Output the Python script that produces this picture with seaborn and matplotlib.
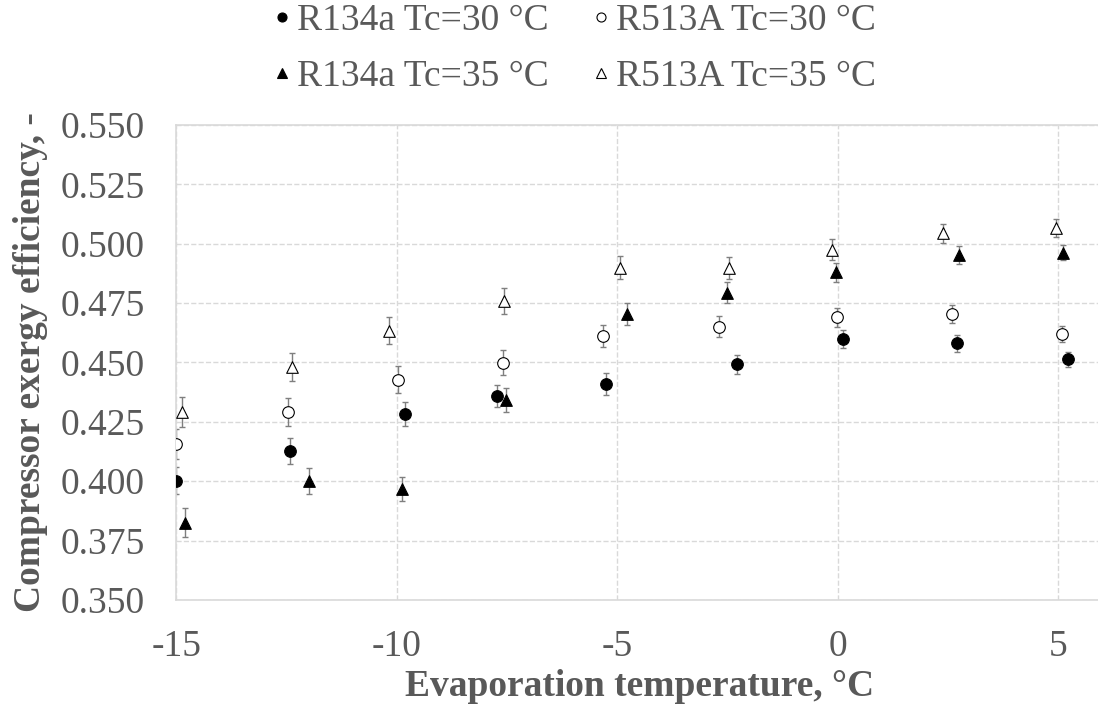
import seaborn as sns
import matplotlib.pyplot as plt
from matplotlib.lines import Line2D

sns.set_style("whitegrid")
plt.rcParams['font.family'] = ['Liberation Serif', 'DejaVu Serif']

# datos
t_r134a_30 = [-15.0, -12.43, -9.82, -7.73, -5.26, -2.29, 0.11, 2.71, 5.21]
e_r134a_30 = [0.4002, 0.4127, 0.4283, 0.4360, 0.4409, 0.4492, 0.4597, 0.4581, 0.4513]
err_r134a_30 = [0.0056, 0.0053, 0.0050, 0.0046, 0.0046, 0.0041, 0.0038, 0.0035, 0.0032]

t_r513a_30 = [-15.0, -12.46, -9.97, -7.60, -5.33, -2.69, -0.03, 2.59, 5.09]
e_r513a_30 = [0.4155, 0.4292, 0.4428, 0.4499, 0.4612, 0.4651, 0.4690, 0.4704, 0.4620]
err_r513a_30 = [0.0063, 0.0058, 0.0056, 0.0052, 0.0046, 0.0044, 0.0040, 0.0037, 0.0035]

t_r134a_35 = [-14.81, -12.0, -9.89, -7.53, -4.78, -2.52, -0.04, 2.74, 5.11]
e_r134a_35 = [0.3826, 0.4000, 0.3966, 0.4342, 0.4704, 0.4793, 0.4880, 0.4953, 0.4963]
err_r134a_35 = [0.0060, 0.0055, 0.0050, 0.0050, 0.0046, 0.0044, 0.0040, 0.0037, 0.0032]

t_r513a_35 = [-14.87, -12.39, -10.17, -7.57, -4.94, -2.47, -0.14, 2.39, 4.94]
e_r513a_35 = [0.4293, 0.4482, 0.4633, 0.4759, 0.4899, 0.4899, 0.4974, 0.5044, 0.5066]
err_r513a_35 = [0.0063, 0.0060, 0.0057, 0.0056, 0.0048, 0.0046, 0.0044, 0.0039, 0.0038]

labels = ["R134a Tc=30 °C", "R513A Tc=30 °C", "R134a Tc=35 °C", "R513A Tc=35 °C"]
x_ticks = [-15, -10, -5, 0, 5]
y_ticks = [0.350, 0.375, 0.400, 0.425, 0.450, 0.475, 0.500, 0.525, 0.550]

series = [
    (t_r134a_30, e_r134a_30, err_r134a_30, "o", "black"),
    (t_r513a_30, e_r513a_30, err_r513a_30, "o", "white"),
    (t_r134a_35, e_r134a_35, err_r134a_35, "^", "black"),
    (t_r513a_35, e_r513a_35, err_r513a_35, "^", "white"),
]

texto = "#595959"
fs = 27
fig = plt.figure(figsize=(10.98, 7.13), dpi=100)
ax = fig.add_axes([0.1607, 0.1585, 0.8434, 0.6662])

for t, e, err, m, fc in series:
    ax.errorbar(t, e, yerr=err, fmt="none", ecolor="#7f7f7f", elinewidth=1,
                capsize=2.3, capthick=1, zorder=2)
    sns.scatterplot(x=t, y=e, marker=m, s=70, color=fc, edgecolor="black",
                    linewidth=0.8, ax=ax, zorder=3)

ax.set_xlim(-15, 6)
ax.set_ylim(0.350, 0.550)
ax.set_xticks(x_ticks)
ax.set_yticks(y_ticks)
ax.set_xticklabels([str(v) for v in x_ticks])
ax.set_yticklabels([f"{v:.3f}" for v in y_ticks])
ax.tick_params(axis="both", labelsize=fs, colors=texto, length=0)
ax.tick_params(axis="x", pad=21)
ax.tick_params(axis="y", pad=23)
ax.grid(True, color="#d9d9d9", linestyle="--", linewidth=1)

for lado in ["left", "top", "bottom"]:
    ax.spines[lado].set_color("#d9d9d9")
    ax.spines[lado].set_linewidth(1.2)
ax.spines["right"].set_visible(False)

ax.set_xlabel("Evaporation temperature, °C", fontsize=fs, fontweight="bold",
              color=texto, labelpad=4)
ax.set_ylabel("Compressor exergy efficiency, -", fontsize=fs, fontweight="bold",
              color=texto, labelpad=9)

# matplotlib llena la leyenda por columnas
orden = [0, 2, 1, 3]
handles = [Line2D([], [], linestyle="none", marker=series[i][3], markersize=6.5,
                  markerfacecolor=series[i][4], markeredgecolor="black",
                  markeredgewidth=0.8) for i in orden]
leg = fig.legend(handles, [labels[i] for i in orden], loc="center",
                 bbox_to_anchor=(575 / 1098, 1 - 49 / 713), ncol=2, frameon=False,
                 fontsize=fs, handlelength=0.4, handletextpad=0.2,
                 columnspacing=1.2, labelspacing=0.56)
for txt in leg.get_texts():
    txt.set_color(texto)

fig.savefig("out.png", dpi=100)
